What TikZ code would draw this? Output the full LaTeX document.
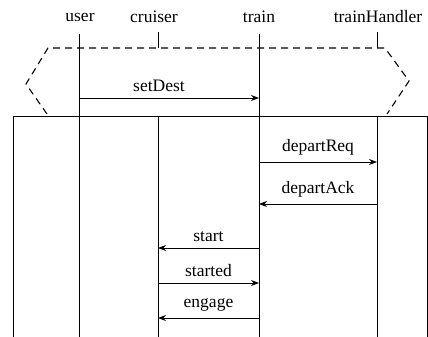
\documentclass[tikz,border=0pt]{standalone}
\usepackage{fontspec}
\setmainfont{Liberation Serif}
\usepackage{tikz}
\usetikzlibrary{calc,arrows.meta}
\tikzstyle{head} = [inner sep=0pt, font=\fontsize{17.5}{20}\selectfont]
\tikzstyle{life} = [line width=0.9pt]
\tikzstyle{frame} = [line width=1.1pt, dash pattern=on 7pt off 5pt]
\tikzstyle{arrow} = [line width=0.9pt,->,>={Stealth[length=8pt,width=6pt]}]
\tikzstyle{lbl} = [above=6pt, inner sep=0pt, font=\fontsize{17.5}{20}\selectfont]

\begin{document}
\begin{tikzpicture}[x=1pt,y=-1pt]
\useasboundingbox (0,0) rectangle (428,337);
% lifeline heads
\node (user) [head] at (80,17) {user};
\node (cruiser) [head] at (154,17) {cruiser};
\node (train) [head] at (259,17) {train};
\node (handler) [head] at (378,17) {trainHandler};
\coordinate (userL) at (79,34);
\coordinate (cruiserL) at (158,32);
\coordinate (trainL) at (259,34);
\coordinate (handlerL) at (377,32);

% dashed fragment and the box below it
\draw [frame] (47,114) -- (26,84) -- (48,48) -- (385,48) -- (409,81) -- (387,114);
\draw [life] (13,337) -- (13,116) -- (427,116) -- (427,337);

% lifelines
\draw [life] (userL) -- (userL |- 0,337);
\draw [life] (trainL) -- (trainL |- 0,337);
\draw [life] (cruiserL) -- (cruiserL |- 0,48);
\draw [life] (cruiserL |- 0,116) -- (cruiserL |- 0,337);
\draw [life] (handlerL) -- (handlerL |- 0,48);
\draw [life] (handlerL |- 0,116) -- (handlerL |- 0,337);

% messages
\draw [arrow] (userL |- 0,98) -- node[lbl, xshift=-10pt] {setDest} (trainL |- 0,98);
\draw [arrow] (trainL |- 0,162) -- node[lbl] {departReq} (handlerL |- 0,162);
\draw [arrow] (handlerL |- 0,204) -- node[lbl] {departAck} (trainL |- 0,204);
\draw [arrow] (trainL |- 0,248) -- node[lbl] {start} (cruiserL |- 0,248);
\draw [arrow] (cruiserL |- 0,283) -- node[lbl] {started} (trainL |- 0,283);
\draw [arrow] (trainL |- 0,318) -- node[lbl] {engage} (cruiserL |- 0,318);

\end{tikzpicture}
\end{document}
